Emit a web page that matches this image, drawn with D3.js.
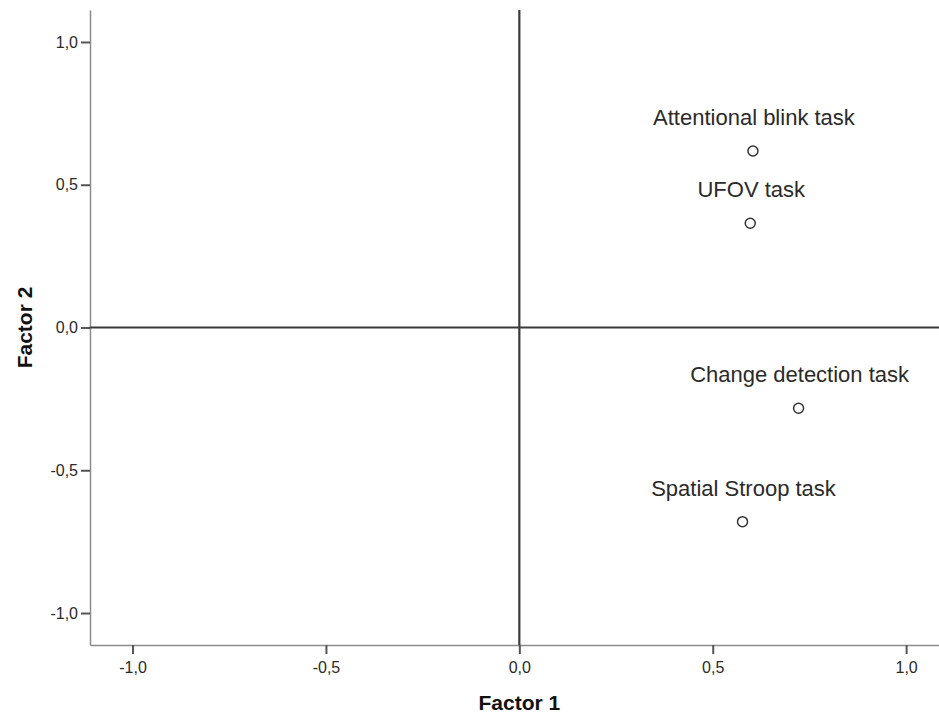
<!DOCTYPE html>
<html>
<head>
<meta charset="utf-8">
<script src="https://cdn.jsdelivr.net/npm/d3@7"></script>
<style>
  html, body { margin: 0; padding: 0; background: #fff; }
  svg { display: block; font-family: "Liberation Sans", Arial, sans-serif; }
</style>
</head>
<body>
<svg id="chart" width="939" height="720"></svg>
<script>
// Factor loadings of the four tasks
const tasks = ["Attentional blink task", "UFOV task", "Change detection task", "Spatial Stroop task"];
const factor1 = [0.604, 0.597, 0.722, 0.577];
const factor2 = [0.618, 0.365, -0.283, -0.680];
const tickValues = [-1.0, -0.5, 0.0, 0.5, 1.0];
const xTitle = "Factor 1";
const yTitle = "Factor 2";

const svg = d3.select("#chart");
const plot = { left: 90, right: 939, top: 10, bottom: 645 };

const x = d3.scaleLinear().domain([-1.11, 1.085]).range([plot.left, plot.right]);
const y = d3.scaleLinear().domain([-1.112, 1.112]).range([plot.bottom, plot.top]);
const fmt = v => d3.format(".1f")(v).replace(".", ",").replace("−", "-");

// Axes
const xAxis = svg.append("g")
  .attr("transform", `translate(0,${plot.bottom})`)
  .call(d3.axisBottom(x).tickValues(tickValues).tickFormat(fmt).tickSize(9).tickSizeOuter(0).tickPadding(8));
const yAxis = svg.append("g")
  .attr("transform", `translate(${plot.left},0)`)
  .call(d3.axisLeft(y).tickValues(tickValues).tickFormat(fmt).tickSize(9).tickSizeOuter(0).tickPadding(3));

[xAxis, yAxis].forEach(g => {
  g.select(".domain").attr("stroke", "#8c8c8c").attr("stroke-width", 1.5);
  g.selectAll(".tick line").attr("stroke", "#555").attr("stroke-width", 2);
  g.selectAll(".tick text").attr("fill", "#2a2a2a").style("font-size", "16px");
});

// Reference lines through the origin
svg.append("line")
  .attr("x1", x(0)).attr("x2", x(0)).attr("y1", plot.top).attr("y2", plot.bottom)
  .attr("stroke", "#3a3a3a").attr("stroke-width", 2.2);
svg.append("line")
  .attr("x1", plot.left).attr("x2", plot.right).attr("y1", y(0)).attr("y2", y(0))
  .attr("stroke", "#3a3a3a").attr("stroke-width", 2.2);

// Points with labels
const pts = tasks.map((t, i) => ({ name: t, f1: factor1[i], f2: factor2[i] }));
const g = svg.append("g");
g.selectAll("circle").data(pts).join("circle")
  .attr("cx", d => x(d.f1)).attr("cy", d => y(d.f2)).attr("r", 5)
  .attr("fill", "none").attr("stroke", "#333").attr("stroke-width", 1.5);
g.selectAll("text").data(pts).join("text")
  .attr("x", d => x(d.f1) + 1).attr("y", d => y(d.f2) - 26)
  .attr("text-anchor", "middle").attr("fill", "#2a2a2a")
  .style("font-size", "22px")
  .text(d => d.name);

// Axis titles
svg.append("text")
  .attr("x", x(0)).attr("y", 710)
  .attr("text-anchor", "middle").attr("font-weight", "bold").attr("fill", "#111")
  .style("font-size", "21px").text(xTitle);
svg.append("text")
  .attr("transform", `translate(32,${y(0)}) rotate(-90)`)
  .attr("text-anchor", "middle").attr("font-weight", "bold").attr("fill", "#111")
  .style("font-size", "21px").text(yTitle);
</script>
</body>
</html>
